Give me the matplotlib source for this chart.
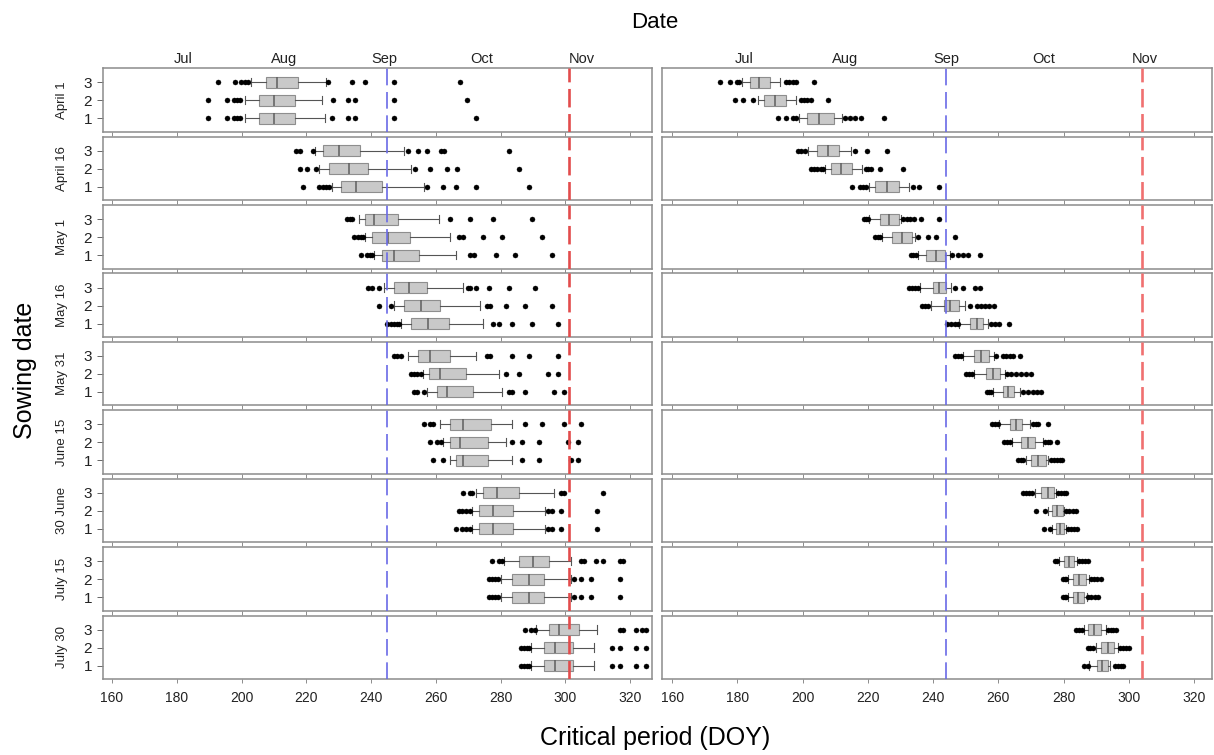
import matplotlib
matplotlib.use("Agg")
import matplotlib.pyplot as plt

plt.rcParams['font.family'] = ['Liberation Sans', 'DejaVu Sans']

sowing_dates = ["April 1", "April 16", "May 1", "May 16", "May 31",
                "June 15", "30 June", "July 15", "July 30"]
groups = [1, 2, 3]
month_names = ["Jul", "Aug", "Sep", "Oct", "Nov"]
month_doy = [182, 213, 244, 274, 305]
x_ticks = [160, 180, 200, 220, 240, 260, 280, 300, 320]

# reference lines (blue, red) for each column
left_lines = [245, 301]
right_lines = [244, 304]

# ---- left column: each row is [group 1, group 2, group 3]
left_lo = [
    [200.9, 200.9, 202.9], [227.8, 223.9, 222.8], [241.0, 238.1, 236.2],
    [249.1, 247.0, 244.1], [257.3, 255.9, 251.5], [264.3, 262.3, 261.1],
    [271.0, 271.0, 272.4], [280.2, 280.2, 281.1], [289.2, 289.2, 291.0],
]
left_q1 = [
    [205.4, 205.4, 207.4], [230.6, 226.9, 225.0], [243.2, 240.3, 238.1],
    [252.3, 250.2, 247.2], [260.3, 257.8, 254.4], [266.3, 264.3, 264.3],
    [273.4, 273.4, 274.5], [283.6, 283.6, 285.6], [293.4, 293.4, 294.8],
]
left_med = [
    [210.1, 210.1, 211.0], [235.3, 233.1, 230.2], [247.2, 245.2, 241.0],
    [257.5, 255.3, 251.6], [263.5, 261.2, 258.3], [268.5, 267.4, 268.5],
    [277.5, 277.5, 278.7], [288.7, 288.7, 289.9], [296.8, 296.8, 297.9],
]
left_q3 = [
    [216.6, 216.6, 217.4], [243.2, 239.1, 236.6], [254.9, 251.9, 248.2],
    [263.9, 261.2, 257.3], [271.3, 269.3, 264.4], [276.2, 276.2, 277.1],
    [283.7, 283.7, 285.6], [293.4, 293.4, 294.8], [302.4, 302.4, 304.1],
]
left_hi = [
    [225.9, 224.8, 226.1], [256.2, 252.3, 250.2], [266.3, 264.3, 260.9],
    [274.4, 273.5, 268.5], [280.5, 279.4, 272.5], [283.6, 281.7, 283.6],
    [293.8, 293.8, 296.6], [301.6, 301.6, 301.6], [308.9, 308.9, 309.8],
]
left_out = [
    [[189.7, 195.6, 197.5, 198.5, 199.5, 227.8, 232.9, 235.1, 247.2, 272.5],
     [189.7, 195.6, 197.5, 198.5, 199.5, 228.1, 232.9, 235.1, 247.2, 269.5],
     [192.7, 197.9, 199.8, 200.9, 202.0, 226.7, 234.0, 238.1, 247.2, 267.4]],
    [[219.1, 224.0, 225.0, 226.0, 227.0, 257.2, 262.3, 266.3, 272.5, 288.7],
     [217.9, 220.1, 223.0, 253.4, 258.3, 263.5, 266.5, 285.6],
     [216.8, 217.9, 221.9, 251.4, 254.4, 257.3, 261.5, 262.6, 282.6]],
    [[237.0, 238.7, 239.5, 240.2, 270.4, 271.6, 278.5, 284.5, 295.7],
     [234.8, 235.8, 236.8, 237.6, 267.1, 268.5, 274.5, 280.5, 292.7],
     [232.6, 233.4, 234.2, 264.3, 270.4, 277.5, 289.6]],
    [[245.0, 246.0, 247.0, 248.0, 248.6, 277.5, 279.5, 283.6, 289.6, 297.7],
     [242.4, 246.1, 275.7, 276.6, 281.7, 287.6, 295.7],
     [239.0, 240.2, 242.4, 269.9, 270.4, 272.5, 276.5, 282.6, 290.6]],
    [[253.1, 254.2, 256.2, 282.6, 283.6, 287.6, 296.6, 299.6],
     [252.3, 253.3, 254.3, 255.3, 281.7, 285.6, 294.6, 297.7],
     [247.2, 248.1, 249.1, 275.7, 276.6, 283.6, 288.6, 297.7]],
    [[259.2, 262.3, 286.6, 291.8, 301.6, 303.8],
     [258.3, 260.3, 261.5, 283.6, 286.6, 291.8, 300.7, 303.8],
     [256.2, 258.1, 259.2, 287.5, 292.7, 299.6, 304.7]],
    [[266.3, 268.2, 269.3, 270.4, 294.6, 295.9, 298.7, 309.8],
     [267.1, 268.2, 269.3, 270.4, 294.6, 295.9, 298.7, 309.8],
     [268.4, 270.4, 271.2, 298.5, 299.6, 311.7]],
    [[276.3, 277.3, 278.3, 279.3, 302.6, 304.7, 307.8, 316.8],
     [276.3, 277.3, 278.3, 279.3, 302.6, 304.7, 307.8, 316.8],
     [277.4, 279.4, 280.5, 304.7, 305.8, 309.5, 311.7, 316.8, 317.9]],
    [[286.4, 287.2, 288.0, 288.7, 314.5, 316.8, 321.8, 324.9],
     [286.4, 287.2, 288.0, 288.7, 314.5, 316.8, 321.8, 324.9],
     [287.5, 289.5, 290.6, 316.8, 317.9, 321.8, 323.7, 324.9]],
]

# ---- right column
right_lo = [
    [198.8, 186.2, 181.4], [220.3, 206.8, 201.7], [235.3, 224.4, 220.5],
    [247.9, 239.4, 235.9], [258.3, 252.5, 249.2], [268.5, 264.1, 260.2],
    [276.4, 275.1, 271.3], [281.3, 281.3, 278.6], [287.9, 289.8, 286.3],
]
right_q1 = [
    [201.4, 188.2, 183.8], [222.2, 208.7, 204.3], [237.8, 227.4, 223.6],
    [251.4, 243.3, 240.0], [261.3, 256.1, 252.5], [270.1, 267.1, 263.6],
    [277.7, 276.4, 273.1], [282.8, 282.8, 280.2], [290.1, 291.4, 287.6],
]
right_med = [
    [204.9, 191.5, 186.6], [226.0, 211.8, 207.9], [241.0, 230.4, 226.6],
    [253.4, 245.2, 241.7], [263.0, 258.3, 254.7], [272.2, 269.1, 265.5],
    [278.9, 278.0, 275.3], [284.4, 284.6, 281.7], [291.7, 293.7, 289.3],
]
right_q3 = [
    [209.6, 194.8, 190.1], [229.5, 215.1, 211.2], [243.8, 233.5, 229.5],
    [255.4, 247.9, 244.1], [264.9, 260.5, 257.0], [274.7, 271.1, 267.4],
    [280.2, 279.7, 277.2], [286.3, 286.8, 283.2], [293.7, 295.6, 291.5],
]
right_hi = [
    [212.0, 197.9, 193.1], [232.6, 218.3, 214.8], [245.2, 234.6, 230.2],
    [256.9, 249.9, 245.5], [266.5, 262.2, 258.7], [275.3, 273.7, 269.6],
    [280.8, 280.2, 277.8], [287.1, 287.9, 284.1], [294.2, 296.7, 293.1],
]
right_out = [
    [[192.6, 194.8, 197.0, 198.1, 212.9, 214.5, 216.0, 217.8, 224.9],
     [179.4, 181.6, 184.9, 199.5, 200.5, 201.5, 202.5, 207.9],
     [174.8, 177.8, 179.8, 180.6, 194.8, 195.8, 197.0, 198.1, 203.6]],
    [[215.1, 217.5, 218.5, 219.4, 233.7, 235.6, 241.9],
     [202.5, 203.5, 204.5, 205.5, 206.3, 219.4, 220.2, 221.1, 223.8, 230.9],
     [198.6, 199.6, 200.8, 216.2, 219.8, 225.8]],
    [[233.1, 234.0, 234.8, 245.7, 247.7, 249.2, 250.7, 254.5],
     [222.2, 223.0, 223.6, 235.3, 238.4, 240.8, 246.6],
     [218.7, 219.4, 220.0, 230.9, 232.0, 233.0, 234.2, 236.4, 241.9]],
    [[244.4, 245.5, 246.6, 247.7, 257.8, 259.0, 260.2, 263.3],
     [236.7, 237.5, 238.3, 251.2, 253.4, 254.7, 256.0, 257.2, 258.7],
     [232.6, 233.5, 234.4, 235.3, 246.8, 249.2, 252.9, 254.5]],
    [[256.5, 257.2, 257.8, 267.6, 269.0, 270.5, 272.0, 273.1],
     [250.1, 251.0, 251.8, 262.7, 264.0, 265.5, 267.1, 268.5, 270.1],
     [246.6, 247.5, 248.5, 259.4, 261.3, 262.5, 263.5, 264.4, 266.5]],
    [[266.0, 266.9, 267.6, 276.2, 277.0, 278.0, 278.8, 279.5],
     [261.8, 262.6, 263.5, 274.4, 275.2, 275.9, 278.0],
     [258.1, 259.0, 259.8, 270.7, 271.5, 272.2, 275.3]],
    [[274.0, 275.9, 281.3, 282.2, 283.2, 284.1],
     [271.7, 274.2, 280.8, 281.8, 282.9, 283.9],
     [267.6, 268.4, 269.3, 270.4, 278.4, 279.2, 280.0, 280.8]],
    [[279.7, 280.3, 280.8, 287.6, 288.5, 289.5, 290.6],
     [279.7, 280.3, 280.8, 288.5, 289.3, 290.1, 291.5],
     [277.3, 278.0, 284.6, 285.5, 286.5, 287.6]],
    [[286.3, 287.4, 295.9, 296.7, 297.5, 298.3],
     [287.4, 288.2, 289.0, 297.4, 298.2, 299.0, 300.0],
     [283.9, 284.8, 285.7, 293.7, 294.5, 295.3, 296.1]],
]

W, H = 1214, 755
fig = plt.figure(figsize=(W / 100, H / 100), dpi=100)

columns = [
    (103.3, 652.3, (157.3, 326.8), left_lines, "#e24c4c",
     (left_lo, left_q1, left_med, left_q3, left_hi, left_out)),
    (662.3, 1212.0, (157.0, 325.5), right_lines, "#f07070",
     (right_lo, right_q1, right_med, right_q3, right_hi, right_out)),
]

frame_col = "#8c8c8c"
row_top0, row_step, row_h = 68.3, 68.4, 63.5

for c, (x0, x1, xlim, lines, red, arrs) in enumerate(columns):
    lo, q1, med, q3, hi, out = arrs
    for i, name in enumerate(sowing_dates):
        top = row_top0 + row_step * i
        ax = fig.add_axes([x0 / W, 1 - (top + row_h) / H, (x1 - x0) / W, row_h / H])
        stats = [dict(whislo=lo[i][g], q1=q1[i][g], med=med[i][g], q3=q3[i][g],
                      whishi=hi[i][g], fliers=out[i][g]) for g in range(3)]
        ax.bxp(stats, positions=groups, orientation='horizontal', widths=0.62,
               capwidths=0.45, patch_artist=True, manage_ticks=False,
               boxprops=dict(facecolor="#c9c9c9", edgecolor="#8e8e8e", linewidth=0.8),
               medianprops=dict(color="#5e5e5e", linewidth=1.1),
               whiskerprops=dict(color="#555555", linewidth=0.8),
               capprops=dict(color="#555555", linewidth=0.8),
               flierprops=dict(marker="o", markersize=3.6, markerfacecolor="black",
                               markeredgecolor="black", markeredgewidth=0.3))
        ax.axvline(lines[0], color="#6a6ae6", lw=1.2, dashes=(10, 4), zorder=3)
        ax.axvline(lines[1], color=red, lw=1.9, dashes=(7, 2.5), zorder=3)
        ax.set_xlim(*xlim)
        ax.set_ylim(0.25, 3.78)
        ax.set_xticks(x_ticks)
        for sp in ax.spines.values():
            sp.set_color(frame_col)
            sp.set_linewidth(1.1)
        ax.tick_params(axis="x", length=3, width=0.7, color=frame_col,
                       labelsize=10, labelcolor="#222222", pad=6,
                       labelbottom=(i == len(sowing_dates) - 1))
        if c == 0:
            ax.set_yticks(groups)
            ax.set_yticklabels([str(g) for g in groups])
            ax.tick_params(axis="y", length=4, width=0.7, color="#666666",
                           labelsize=11, labelcolor="#222222", pad=4)
            fig.text(61.7 / W, 1 - (top + row_h / 2) / H, name, rotation=90,
                     ha="center", va="center", fontsize=9.5, color="#222222")
        else:
            ax.set_yticks([])
        if i == 0:
            sec = ax.secondary_xaxis("top")
            sec.set_xticks(month_doy)
            sec.set_xticklabels(month_names)
            sec.tick_params(length=0, labelsize=10.5, pad=2, labelcolor="#222222")
            sec.spines["top"].set_visible(False)

fig.text(655 / W, 1 - 22 / H, "Date", ha="center", va="center", fontsize=16)
fig.text(655 / W, 1 - 738 / H, "Critical period (DOY)", ha="center", va="center",
         fontsize=18)
fig.text(25 / W, 1 - 370 / H, "Sowing date", rotation=90, ha="center",
         va="center", fontsize=18)

fig.savefig("out.png", dpi=100)
